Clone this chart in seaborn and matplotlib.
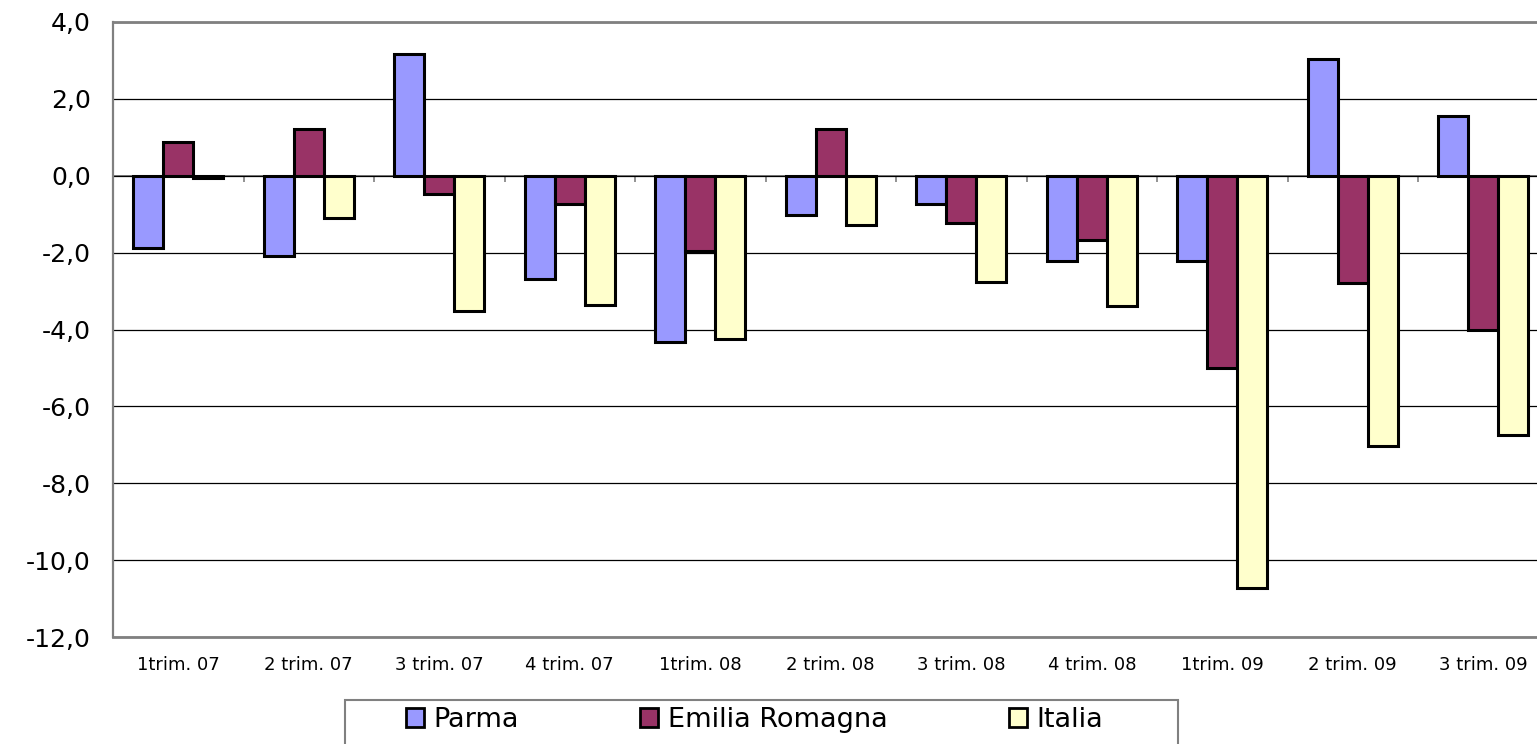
import numpy as np
import pandas as pd
import matplotlib
matplotlib.use("Agg")
import matplotlib.pyplot as plt
from matplotlib.patches import Rectangle
import seaborn as sns

categories = ["1trim. 07", "2 trim. 07", "3 trim. 07", "4 trim. 07", "1trim. 08",
              "2 trim. 08", "3 trim. 08", "4 trim. 08", "1trim. 09", "2 trim. 09", "3 trim. 09"]
series = ["Parma", "Emilia Romagna", "Italia"]
parma = [-1.88, -2.09, 3.18, -2.69, -4.32, -1.01, -0.74, -2.22, -2.22, 3.05, 1.55]
emilia = [0.87, 1.21, -0.47, -0.73, -1.96, 1.21, -1.23, -1.68, -5.00, -2.78, -4.00]
italia = [-0.05, -1.09, -3.51, -3.37, -4.25, -1.29, -2.76, -3.38, -10.73, -7.02, -6.74]
ytick_vals = [4, 2, 0, -2, -4, -6, -8, -10, -12]
ytick_labels = ["4,0", "2,0", "0,0", "-2,0", "-4,0", "-6,0", "-8,0", "-10,0", "-12,0"]
colors = ["#9999FF", "#993366", "#FFFFCC"]

df = pd.DataFrame({
    "trim": categories * 3,
    "area": [series[0]] * 11 + [series[1]] * 11 + [series[2]] * 11,
    "val": parma + emilia + italia,
})

sns.set_style("white")
plt.rcParams["font.family"] = ["DejaVu Sans"]
plt.rcParams["text.color"] = "black"

W, H = 1537, 744
fig = plt.figure(figsize=(W / 100, H / 100), dpi=100)
L, R, T, B = 113, 1537, 22, 637
ax = fig.add_axes([L / W, (H - B) / H, (R - L) / W, (B - T) / H])

sns.barplot(data=df, x="trim", y="val", hue="area", order=categories, hue_order=series,
            palette=colors, width=0.69, saturation=1, edgecolor="black", linewidth=2.2,
            errorbar=None, ax=ax)

ax.set_xlim(-0.5, -0.5 + (R - L) / 130.5)
ax.set_ylim(-12, 4)
ax.set_yticks(ytick_vals)
ax.set_yticklabels(ytick_labels, fontsize=18)
ax.set_xlabel("")
ax.set_ylabel("")
ax.set_axisbelow(True)
ax.yaxis.grid(True, color="black", linewidth=0.9)
ax.xaxis.grid(False)

ax.tick_params(axis="x", length=0, pad=14, labelsize=13, labelcolor="black")
ax.tick_params(axis="y", length=6, width=1.2, color="#808080", direction="out", pad=10,
               labelcolor="black")

for s in ["left", "top", "bottom"]:
    ax.spines[s].set_visible(True)
    ax.spines[s].set_color("#808080")
ax.spines["left"].set_linewidth(1.6)
ax.spines["top"].set_linewidth(2.0)
ax.spines["bottom"].set_linewidth(2.0)
ax.spines["right"].set_visible(False)

# zero axis with category-boundary ticks
zax = ax.secondary_xaxis(0.75)
zax.set_alignment("bottom")
zax.set_xticks(np.arange(0.5, 10.6, 1.0))
zax.tick_params(axis="x", length=4, width=1.2, color="#808080", direction="out", labelbottom=False)
zax.spines["bottom"].set_color("#808080")
zax.spines["bottom"].set_linewidth(1.4)

handles, labels = ax.get_legend_handles_labels()
if ax.get_legend() is not None:
    ax.get_legend().remove()
leg = fig.legend(handles, labels, loc="upper left",
                 bbox_to_anchor=(406 / W, 1 - 707 / H), bbox_transform=fig.transFigure,
                 ncol=3, frameon=False, fontsize=19.5, handlelength=0.65, handleheight=0.65,
                 handletextpad=0.35, columnspacing=4.5, borderpad=0, borderaxespad=0)
for t in leg.get_texts():
    t.set_color("black")
for h in leg.legend_handles:
    h.set_edgecolor("black")
    h.set_linewidth(2.0)

fig.add_artist(Rectangle((345 / W, -0.05), (1178 - 345) / W, (H - 700) / H + 0.05,
                         transform=fig.transFigure, fill=False, edgecolor="#808080", linewidth=1.5))

fig.savefig("out.png", dpi=100)
